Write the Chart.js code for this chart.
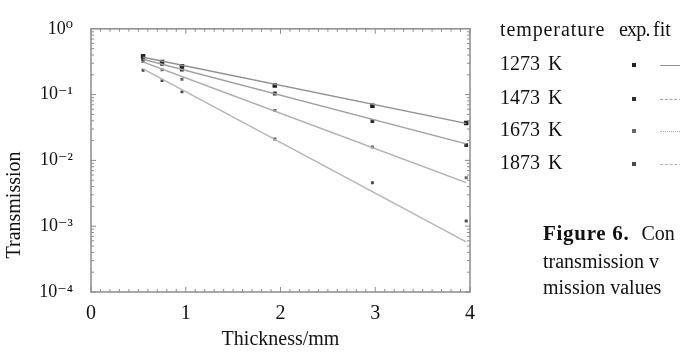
<!DOCTYPE html>
<html>
<head>
<meta charset="utf-8">
<script src="https://cdn.jsdelivr.net/npm/chart.js@4/dist/chart.umd.min.js"></script>
<style>
  html, body { margin: 0; padding: 0; background: #fff; overflow: hidden; }
  #wrap { position: relative; width: 680px; height: 356px; overflow: hidden; font-family: "Liberation Serif", "DejaVu Serif", serif; color: #111; }
  #chart { position: absolute; left: 0; top: 0; }
  .t { position: absolute; font-size: 20px; white-space: nowrap; line-height: 1; }
  .mk { position: absolute; background: #333; }
  .ln { position: absolute; width: 22px; height: 0; border-top: 1.5px solid #999; }
</style>
</head>
<body>
<div id="wrap">
  <canvas id="chart" width="680" height="356"></canvas>
  <div id="legend"></div>
  <div class="t" style="left:543px;top:223px"><b style="font-size:21px;letter-spacing:0.7px">Figure 6.</b><span style="margin-left:12px">Con</span></div>
  <div class="t" style="left:543px;top:251px">transmission v</div>
  <div class="t" style="left:543px;top:277px">mission values</div>
</div>
<script>
// thickness (mm) of the measured samples
const thickness = [0.55, 0.75, 0.96, 1.94, 2.97, 3.96];
const temps = ['1273 K', '1473 K', '1673 K', '1873 K'];
// measured transmission
const exp1273 = [0.382, 0.313, 0.270, 0.138, 0.0677, 0.0369];
const exp1473 = [0.352, 0.293, 0.240, 0.104, 0.0395, 0.0171];
const exp1673 = [0.319, 0.239, 0.171, 0.0574, 0.0160, 0.00545];
const exp1873 = [0.234, 0.163, 0.110, 0.0212, 0.00457, 0.00120];
// exponential fits (straight on log axis, ends only)
const fitX = [0.55, 3.96];
const fit1273 = [0.37, 0.0365];
const fit1473 = [0.345, 0.0178];
const fit1673 = [0.313, 0.0046];
const fit1873 = [0.247, 0.00058];
const yTicks = [1e-4, 1e-3, 1e-2, 1e-1, 1];

const SERIF = '"Liberation Serif", "DejaVu Serif", serif';
const markStyle = [
  { r: 3.2, c: '#222' },
  { r: 2.7, c: '#2e2e2e' },
  { r: 2.2, c: '#666' },
  { r: 2.1, c: '#4a4a4a' },
];
const lineCol = ['#909090', '#a0a0a0', '#aeaeae', '#b4b4b4'];

const sup = { '0': '⁰', '1': '¹', '2': '²', '3': '³', '4': '⁴', '-': '⁻' };
const pow10 = v => '10' + String(Math.round(Math.log10(v))).split('').map(c => sup[c]).join('');

const pts = (xs, ys) => xs.map((x, i) => ({ x, y: ys[i] }));
const exps = [exp1273, exp1473, exp1673, exp1873];
const fits = [fit1273, fit1473, fit1673, fit1873];

const datasets = [];
fits.forEach((f, i) => datasets.push({
  label: temps[i] + ' fit', data: pts(fitX, f), showLine: true,
  borderColor: lineCol[i], borderWidth: 1.4, pointRadius: 0, fill: false,
}));
exps.forEach((e, i) => datasets.push({
  label: temps[i] + ' exp.', data: pts(thickness, e), showLine: false,
  pointStyle: 'rect', pointRadius: markStyle[i].r, backgroundColor: markStyle[i].c, borderColor: markStyle[i].c, borderWidth: 0,
}));

// frame with inward minor/major ticks, plus rotated y title
const framePlugin = {
  id: 'frame',
  afterDraw(chart) {
    const { ctx, chartArea: a, scales: { x, y } } = chart;
    ctx.save();
    ctx.strokeStyle = '#8c8c8c';
    ctx.lineWidth = 1.5;
    ctx.strokeRect(a.left, a.top, a.right - a.left, a.bottom - a.top);
    ctx.lineWidth = 1;
    ctx.beginPath();
    for (let k = 0; k <= 40; k++) {
      const px = x.getPixelForValue(k / 10);
      const len = k % 10 === 0 ? 5 : 3;
      ctx.moveTo(px, a.bottom); ctx.lineTo(px, a.bottom - len);
      ctx.moveTo(px, a.top); ctx.lineTo(px, a.top + len);
    }
    for (let d = -4; d < 0; d++) {
      for (let m = 1; m < 10; m++) {
        const py = y.getPixelForValue(m * Math.pow(10, d));
        const len = m === 1 ? 5 : 3;
        ctx.moveTo(a.left, py); ctx.lineTo(a.left + len, py);
        ctx.moveTo(a.right, py); ctx.lineTo(a.right - len, py);
      }
    }
    ctx.stroke();
    ctx.translate(15, 205);
    ctx.rotate(-Math.PI / 2);
    ctx.fillStyle = '#111';
    ctx.font = '20px ' + SERIF;
    ctx.textAlign = 'center';
    ctx.textBaseline = 'middle';
    ctx.fillText('Transmission', 0, 0);
    ctx.restore();
  }
};

new Chart(document.getElementById('chart'), {
  type: 'scatter',
  data: { datasets },
  plugins: [framePlugin],
  options: {
    responsive: false, animation: false,
    layout: { padding: { top: 14, right: 210, left: 0, bottom: 0 } },
    plugins: { legend: { display: false }, tooltip: { enabled: false } },
    scales: {
      x: {
        type: 'linear', min: 0, max: 4,
        afterFit: s => { s.height = 64; },
        grid: { display: false, drawTicks: false },
        border: { display: false },
        ticks: { stepSize: 1, padding: 10, color: '#111', font: { family: SERIF, size: 20 } },
        title: { display: true, text: 'Thickness/mm', color: '#111', font: { family: SERIF, size: 20 }, padding: { top: 2, bottom: 4 } },
      },
      y: {
        type: 'logarithmic', min: 1e-4, max: 1,
        afterFit: s => { s.width = 91; },
        afterBuildTicks: s => { s.ticks = yTicks.map(v => ({ value: v, major: true })); },
        grid: { display: false, drawTicks: false },
        border: { display: false },
        ticks: { padding: 18, color: '#111', font: { family: SERIF, size: 18 }, callback: v => pow10(v) },
      },
    },
  },
});

// legend table at the right
const leg = document.getElementById('legend');
const add = html => leg.insertAdjacentHTML('beforeend', html);
add('<div class="t" style="left:500px;top:19px;letter-spacing:0.9px">temperature</div>');
add('<div class="t" style="left:619px;top:19px;letter-spacing:-0.8px">exp.</div>');
add('<div class="t" style="left:653px;top:19px">fit</div>');
const rowY = [65, 99, 131, 164];
const dash = ['solid', 'dashed', 'dotted', 'dashed'];
temps.forEach((t, i) => {
  add(`<div class="t" style="left:500px;top:${rowY[i] - 12}px;word-spacing:3px">${t}</div>`);
  const s = markStyle[i].r * 1.5;
  add(`<div class="mk" style="left:${634 - s / 2}px;top:${rowY[i] - s / 2}px;width:${s}px;height:${s}px;background:${markStyle[i].c}"></div>`);
  add(`<div class="ln" style="left:660px;top:${rowY[i]}px;border-top-style:${dash[i]};border-top-color:${lineCol[i]}"></div>`);
});
</script>
</body>
</html>
